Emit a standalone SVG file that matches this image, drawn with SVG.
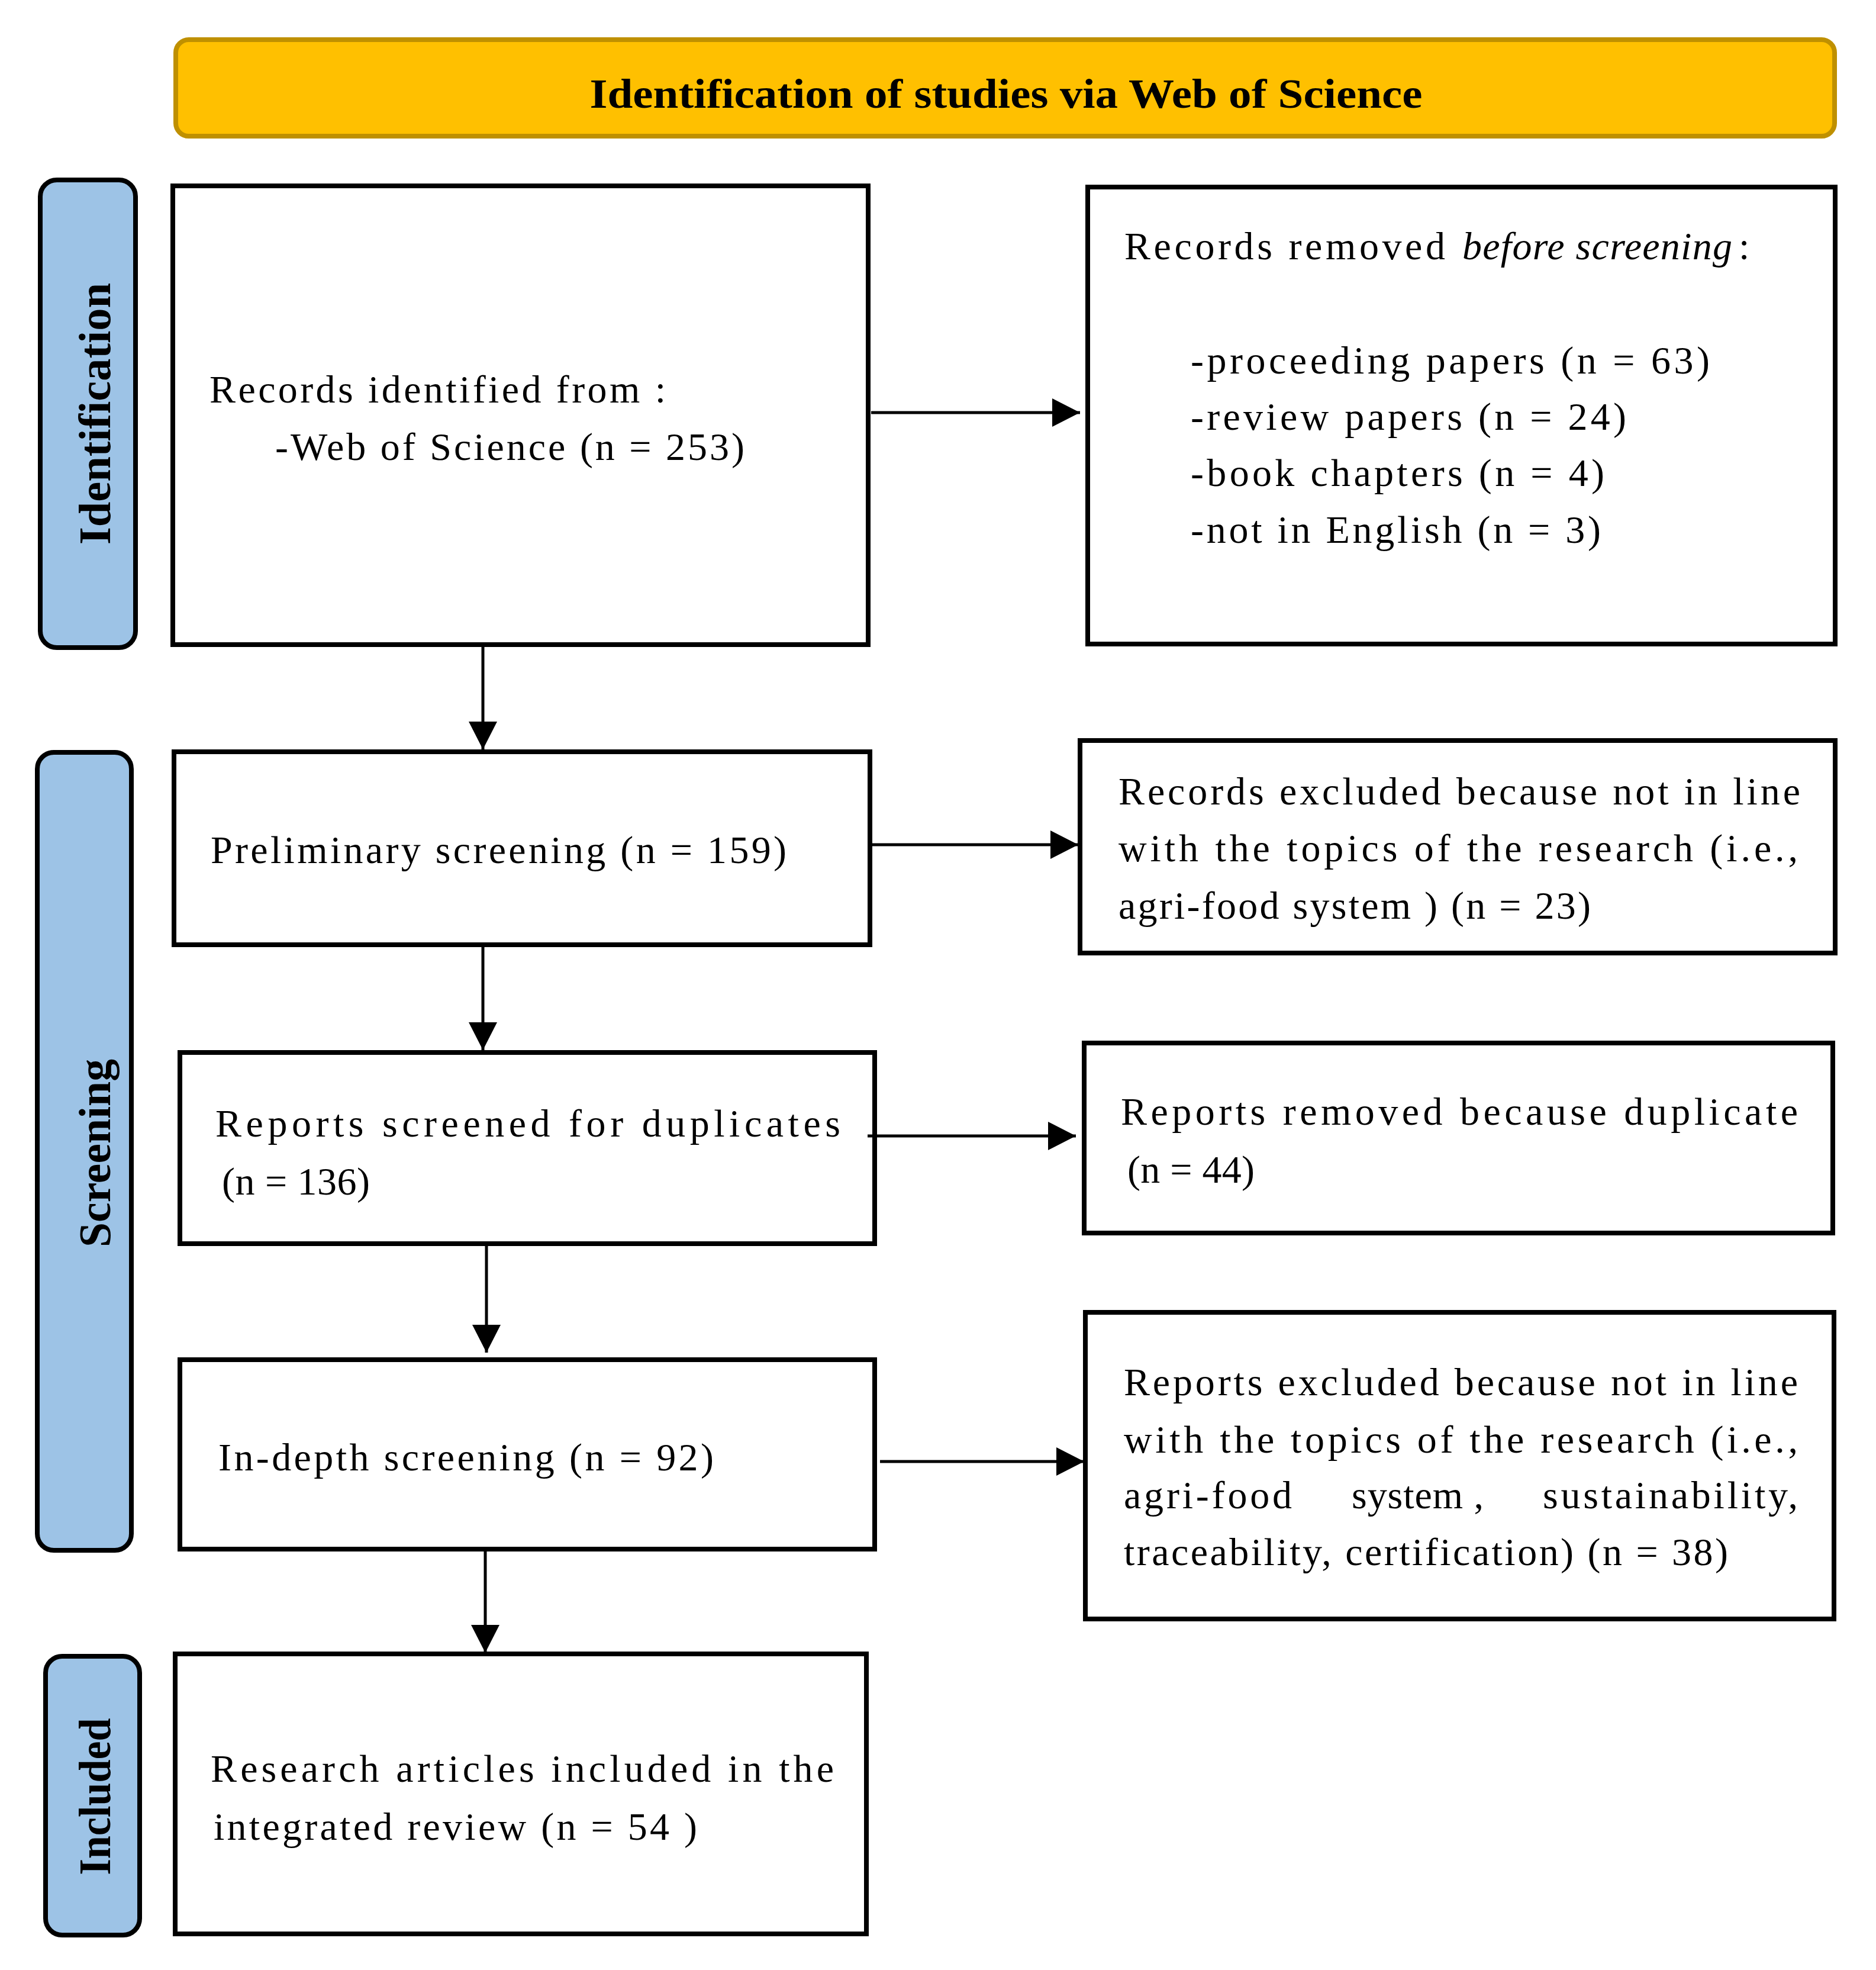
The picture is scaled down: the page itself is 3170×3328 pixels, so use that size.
<svg xmlns="http://www.w3.org/2000/svg" width="3170" height="3328" viewBox="0 0 3170 3328">
<style>
.box{fill:#ffffff;stroke:#000000;stroke-width:8}
.side{fill:#9DC3E6;stroke:#000000;stroke-width:8}
.t{font-family:"Liberation Serif","Times New Roman",serif;font-size:66px;fill:#000000}
.it{font-style:italic}
.lab{font-family:"Liberation Serif","Times New Roman",serif;font-size:76px;font-weight:bold;fill:#000000;text-anchor:middle}
.conn{stroke:#000000;stroke-width:5;fill:none;marker-end:url(#arr)}
</style>
<defs>
<marker id="arr" markerUnits="userSpaceOnUse" markerWidth="48" markerHeight="48" refX="47" refY="24" orient="auto">
<path d="M0,0 L47,24 L0,48 Z" fill="#000000"/>
</marker>
</defs>
<rect width="3170" height="3328" fill="#ffffff"/>

<g id="banner">
<rect x="297" y="67" width="2803" height="163" rx="22" fill="#FFC000" stroke="#BF9000" stroke-width="8"/>
<text x="1700" y="182" text-anchor="middle" font-family="'Liberation Serif','Times New Roman',serif" font-size="70" font-weight="bold" textLength="1407" lengthAdjust="spacingAndGlyphs">Identification of studies via Web of Science</text>
</g>

<g id="label-identification">
<rect class="side" x="68" y="304" width="161" height="790" rx="28"/>
<text class="lab" transform="translate(186,699) rotate(-90)" textLength="442" lengthAdjust="spacingAndGlyphs">Identification</text>
</g>
<g id="label-screening">
<rect class="side" x="63" y="1271" width="159" height="1348" rx="28"/>
<text class="lab" transform="translate(186,1948) rotate(-90)" textLength="318" lengthAdjust="spacingAndGlyphs">Screening</text>
</g>
<g id="label-included">
<rect class="side" x="77" y="2798" width="159" height="471" rx="28"/>
<text class="lab" transform="translate(186,3035) rotate(-90)" textLength="265" lengthAdjust="spacingAndGlyphs">Included</text>
</g>

<g id="records-identified">
<rect class="box" x="292" y="314" width="1175" height="775"/>
<text class="t" x="354" y="680" textLength="771">Records identified from :</text>
<text class="t" x="465" y="777" textLength="793">-Web of Science (n = 253)</text>
</g>

<g id="records-removed">
<rect class="box" x="1838" y="316" width="1263" height="772"/>
<text class="t" x="1900" y="438" textLength="542">Records removed</text>
<text class="t it" x="2471" y="438" textLength="456">before screening</text>
<text class="t" x="2938" y="438">:</text>
<text class="t" x="2012" y="631" textLength="877">-proceeding papers (n = 63)</text>
<text class="t" x="2012" y="726" textLength="736">-review papers (n = 24)</text>
<text class="t" x="2012" y="821" textLength="699">-book chapters (n = 4)</text>
<text class="t" x="2012" y="917" textLength="693">-not in English (n = 3)</text>
</g>

<g id="preliminary-screening">
<rect class="box" x="294" y="1270" width="1176" height="326"/>
<text class="t" x="356" y="1458" textLength="973">Preliminary screening (n = 159)</text>
</g>

<g id="records-excluded">
<rect class="box" x="1825" y="1251" width="1276" height="359"/>
<text class="t" x="1890" y="1359" textLength="1152">Records excluded because not in line</text>
<text class="t" x="1890" y="1455" textLength="1148">with the topics of the research (i.e.,</text>
<text class="t" x="1890" y="1552" textLength="798">agri-food system ) (n = 23)</text>
</g>

<g id="reports-screened">
<rect class="box" x="304" y="1778" width="1174" height="323"/>
<text class="t" x="364" y="1920" textLength="1056">Reports screened for duplicates</text>
<text class="t" x="375" y="2018" textLength="250">(n = 136)</text>
</g>

<g id="reports-removed">
<rect class="box" x="1832" y="1762" width="1265" height="321"/>
<text class="t" x="1894" y="1900" textLength="1144">Reports removed because duplicate</text>
<text class="t" x="1905" y="1998" textLength="215">(n = 44)</text>
</g>

<g id="in-depth-screening">
<rect class="box" x="304" y="2297" width="1174" height="320"/>
<text class="t" x="369" y="2484" textLength="837">In-depth screening (n = 92)</text>
</g>

<g id="reports-excluded">
<rect class="box" x="1834" y="2217" width="1265" height="518"/>
<text class="t" x="1899" y="2357" textLength="1139">Reports excluded because not in line</text>
<text class="t" x="1899" y="2454" textLength="1139">with the topics of the research (i.e.,</text>
<text class="t" x="1899" y="2548" textLength="284">agri-food</text>
<text class="t" x="2284" y="2548" textLength="223">system ,</text>
<text class="t" x="2607" y="2548" textLength="431">sustainability,</text>
<text class="t" x="1899" y="2644" textLength="1021">traceability, certification) (n = 38)</text>
</g>

<g id="included-articles">
<rect class="box" x="296" y="2794" width="1168" height="473"/>
<text class="t" x="356" y="3010" textLength="1053">Research articles included in the</text>
<text class="t" x="361" y="3108" textLength="817">integrated review (n = 54 )</text>
</g>

<g id="connectors">
<path class="conn" d="M1472,697 H1825"/>
<path class="conn" d="M816,1093 V1266"/>
<path class="conn" d="M1472,1427 H1822"/>
<path class="conn" d="M816,1600 V1774"/>
<path class="conn" d="M1466,1919 H1818"/>
<path class="conn" d="M822,2104 V2285"/>
<path class="conn" d="M1487,2469 H1832"/>
<path class="conn" d="M820,2621 V2792"/>
</g>
</svg>
